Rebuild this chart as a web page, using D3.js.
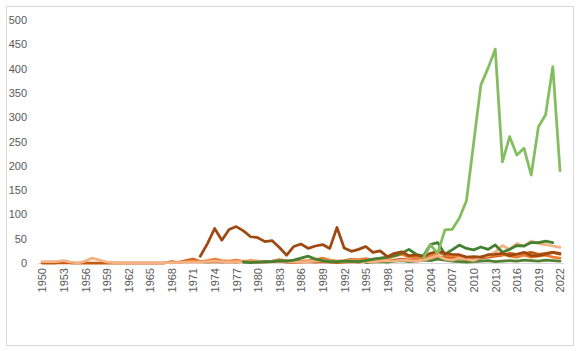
<!DOCTYPE html>
<meta charset="utf-8">
<style>
  body { margin: 0; padding: 0; background: #fff; }
  svg { display: block; }
  text { font-family: "Liberation Sans", Arial, sans-serif; font-size: 11px; fill: #595959; }
</style>
<script src="https://d3js.org/d3.v7.min.js"></script>
<body>
<div id="chart"></div>
<script>
// years on the category axis
var years = d3.range(1950, 2023);
var yTicks = [0, 50, 100, 150, 200, 250, 300, 350, 400, 450, 500];

// each series: first year + values
var peachStart = 1950;
var peach = [3,3,3,5,2,0,4,10,6,2, 1,1,1,1,1,1,1,1,1,1, 2,2,2,3,4,3,2,3,2,2,
             3,3,4,5,3,2,2,3,4,5, 4,3,4,5,4,3,2,4,5,4, 6,5,4,6,10,15,8,6,10,8,
             5,12,15,22,36,28,40,34,45,40, 38,35,32];

var darkOrangeStart = 1950;
var darkOrange = [0,0,0,1,0,0,0,0,0,0, 0,0,0,0,0,0,0,0,3,1, 5,8,3,2,3,2,3,2,4,3,
                  2,2,3,4,2,1,2,3,2,3, 2,1,2,3,2,4,3,5,4,6, 8,6,5,7,9,11,12,10,9,7,
                  8,10,12,14,16,20,18,20,22,18, 20,22,18];

var orangeStart = 1968;
var orange = [1,2,3,5,3,5,8,5,4,6, 3,5,4,3,4,7,5,3,4,5, 7,10,6,4,5,8,7,9,6,8,
              10,14,18,12,10,8,14,22,16,14, 15,10,8,12,14,16,18,14,12,16, 12,14,16,12,10];

var forestStart = 1995;
var forest = [1,2,3,2,4,5,3,4,6,5, 8,6,4,3,2,3,4,5,3,4, 5,4,6,5,4,6,5,4];

var brownStart = 1972;
var brown = [14,40,71,47,69,75,66,54,52,44, 46,32,16,34,39,30,35,38,30,73,
             31,24,28,34,22,25,13,20,23,15, 16,13,20,24,20,18,17,12,13,12,
             17,18,20,15,18,22,15,15,18,22, 20];

var darkGreenStart = 1978;
var darkGreen = [2,1,2,3,3,5,4,6,10,14, 8,5,3,3,4,4,3,5,8,10, 12,15,20,28,18,14,38,42,18,27,
                 37,30,27,33,28,37,22,28,36,35, 42,42,45,42];

var lightGreenStart = 2003;
var lightGreen = [10,37,20,68,69,92,128,247,366,401, 440,208,260,222,236,181,280,305,404,190];

var series = [
  { start: darkOrangeStart, values: darkOrange, color: "#c55a11" },
  { start: forestStart, values: forest, color: "#548235" },
  { start: orangeStart, values: orange, color: "#ed7d31" },
  { start: peachStart, values: peach, color: "#f4b183" },
  { start: darkGreenStart, values: darkGreen, color: "#43802f" },
  { start: brownStart, values: brown, color: "#9e4912" },
  { start: lightGreenStart, values: lightGreen, color: "#84bd60" }
];

var W = 584, H = 351;
var svg = d3.select("#chart").append("svg")
    .attr("width", W)
    .attr("height", H);

// chart border
svg.append("rect")
    .attr("x", 6.5).attr("y", 6.5)
    .attr("width", 567).attr("height", 339)
    .attr("fill", "#fff")
    .attr("stroke", "#d9d9d9");

var x = d3.scalePoint().domain(years).range([42, 560]);
var y = d3.scaleLinear().domain([0, 500]).range([263, 20]);

// Y axis, labels only
var yAxis = svg.append("g")
    .attr("transform", "translate(31,0)")
    .call(d3.axisLeft(y).tickValues(yTicks).tickSize(0).tickPadding(4));
yAxis.select(".domain").remove();
yAxis.selectAll("text").style("font-size", "11px").attr("fill", "#595959");

// X axis line
svg.append("line")
    .attr("x1", 38).attr("x2", 564)
    .attr("y1", y(0) + 0.5).attr("y2", y(0) + 0.5)
    .attr("stroke", "#d9d9d9");

// X axis labels every 3 years, rotated
var xAxis = svg.append("g")
    .attr("transform", "translate(0," + y(0) + ")")
    .call(d3.axisBottom(x).tickValues(years.filter(function(d) { return (d - 1950) % 3 === 0; }))
      .tickSize(0).tickFormat(d3.format("d")));
xAxis.select(".domain").remove();
xAxis.selectAll("text")
    .style("font-size", "11px")
    .attr("fill", "#595959")
    .attr("text-anchor", "end")
    .attr("transform", "rotate(-90)")
    .attr("x", -5)
    .attr("y", 0)
    .attr("dy", "0.35em");

var line = d3.line()
    .defined(function(d) { return d.v != null; })
    .x(function(d) { return x(d.year); })
    .y(function(d) { return y(d.v); });

series.forEach(function(s) {
  var pts = s.values.map(function(v, i) { return { year: s.start + i, v: v }; });
  svg.append("path")
      .datum(pts)
      .attr("d", line)
      .attr("fill", "none")
      .attr("stroke", s.color)
      .attr("stroke-width", 2.75)
      .attr("stroke-linejoin", "round")
      .attr("stroke-linecap", "round");
});
</script>
</body>
